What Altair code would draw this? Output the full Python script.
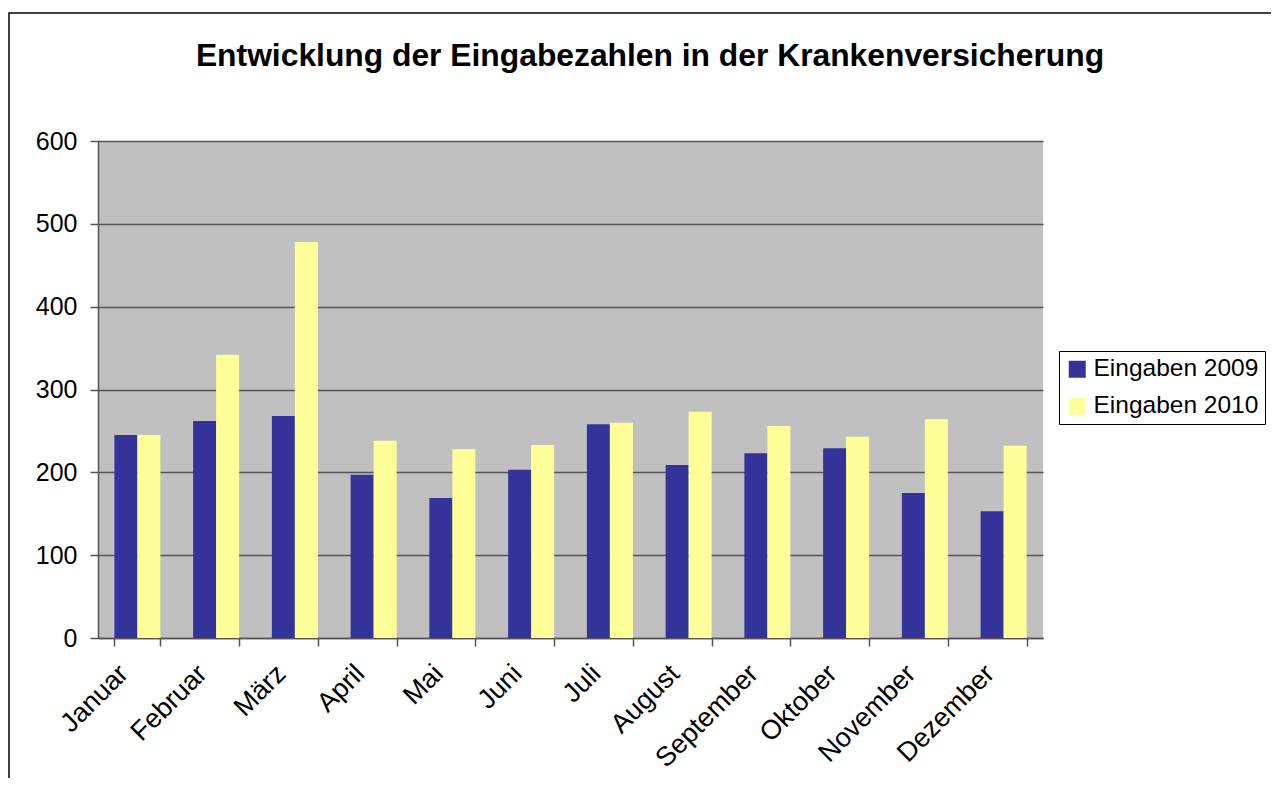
import altair as alt
import pandas as pd

months = ["Januar", "Februar", "März", "April", "Mai", "Juni", "Juli",
          "August", "September", "Oktober", "November", "Dezember"]
series_names = ["Eingaben 2009", "Eingaben 2010"]
v2009 = [245, 262, 268, 197, 169, 203, 258, 209, 223, 229, 175, 153]
v2010 = [245, 342, 478, 238, 228, 233, 260, 273, 256, 243, 264, 232]
y_ticks = [0, 100, 200, 300, 400, 500, 600]
colors = ["#333399", "#FFFF99"]
title_text = "Entwicklung der Eingabezahlen in der Krankenversicherung"

rows = []
for m, a, b in zip(months, v2009, v2010):
    rows.append({"Monat": m, "Serie": series_names[0], "Wert": a})
    rows.append({"Monat": m, "Serie": series_names[1], "Wert": b})
df = pd.DataFrame(rows)

FONT = "Liberation Sans"
W, H = 945, 497

frame = alt.Chart(alt.Data(values=[{}])).mark_rect(
    fill="transparent", stroke="black", strokeWidth=1.5
).encode(
    x=alt.value(-89), x2=alt.value(1400),
    y=alt.value(-128), y2=alt.value(900)
)

title = alt.Chart(alt.Data(values=[{"t": title_text}])).mark_text(
    font=FONT, fontSize=31.8, fontWeight="bold", color="black",
    align="center", baseline="alphabetic"
).encode(
    x=alt.value(552), y=alt.value(-75), text="t:N"
)

bars = alt.Chart(df).mark_bar().encode(
    x=alt.X("Monat:N", sort=months,
            scale=alt.Scale(paddingInner=0.416, paddingOuter=0.208),
            axis=alt.Axis(title=None, labelAngle=-45, tickBand="extent",
                          tickSize=8, tickColor="#555555", domainColor="#555555",
                          domainWidth=1.5, tickWidth=1.5,
                          labelFont=FONT, labelFontSize=27, labelColor="black",
                          labelAlign="right", labelBaseline="top",
                          labelOffset=-23, labelPadding=14)),
    xOffset=alt.XOffset("Serie:N", sort=series_names),
    y=alt.Y("Wert:Q", scale=alt.Scale(domain=[0, 600]),
            axis=alt.Axis(title=None, values=y_ticks, grid=True,
                          gridColor="#555555", gridWidth=1.5,
                          tickSize=8, tickColor="#555555", tickWidth=1.5,
                          domainColor="#555555", domainWidth=1.5,
                          labelFont=FONT, labelFontSize=25, labelColor="black",
                          labelPadding=13)),
    color=alt.Color("Serie:N", sort=series_names,
                    scale=alt.Scale(domain=series_names, range=colors),
                    legend=alt.Legend(title=None, orient="none",
                                      legendX=961, legendY=210,
                                      strokeColor="black", fillColor="white",
                                      padding=6, rowPadding=12,
                                      symbolType="square", symbolSize=289,
                                      symbolStrokeWidth=0, labelOffset=4,
                                      labelLimit=0,
                                      labelFont=FONT, labelFontSize=24.5,
                                      labelColor="black"))
)

chart = alt.layer(frame, title, bars).properties(
    width=W, height=H,
    autosize=alt.AutoSizeParams(type="none"),
    padding={"left": 90, "top": 133, "right": 228, "bottom": 140},
).configure_view(fill="#C0C0C0", stroke=None)

chart.save("out.html", embed_options={"renderer": "svg", "actions": False})
